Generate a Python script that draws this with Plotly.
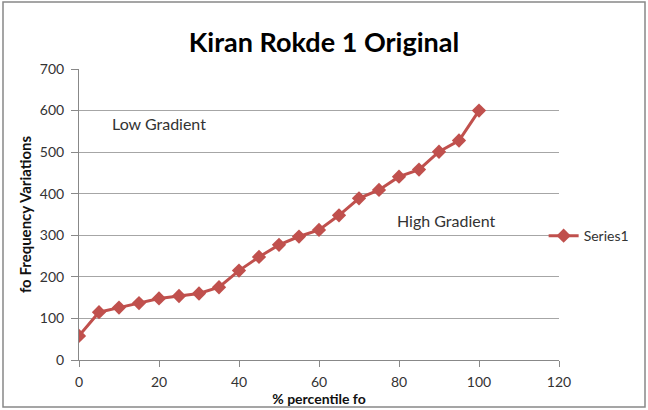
import plotly.graph_objects as go

percentile = [0, 5, 10, 15, 20, 25, 30, 35, 40, 45, 50, 55, 60, 65, 70, 75, 80, 85, 90, 95, 100]
fo_values = [58, 115, 126, 137, 148, 154, 160, 175, 215, 248, 277, 297, 313, 348, 389, 409, 441, 458, 501, 528, 600]
x_ticks = [0, 20, 40, 60, 80, 100, 120]
y_ticks = [0, 100, 200, 300, 400, 500, 600, 700]

FONT = "Lato, 'Open Sans', sans-serif"
RED = "#C0504D"
TXT = "#333"

fig = go.Figure()
fig.add_trace(go.Scatter(
    x=percentile, y=fo_values, mode="lines+markers", name="Series1",
    line=dict(color=RED, width=3),
    marker=dict(symbol="diamond", size=11, color=RED),
))

fig.update_layout(
    width=648, height=410,
    margin=dict(l=79, r=89, t=69, b=50, autoexpand=False),
    paper_bgcolor="white", plot_bgcolor="white",
    font=dict(family=FONT, size=14, color=TXT),
    title=dict(text="<b>Kiran Rokde 1 Original</b>", x=0.5, xanchor="center",
               y=0.897, yanchor="middle", font=dict(size=27, color="black", family=FONT)),
    showlegend=True,
    legend=dict(x=0.968, xanchor="left", y=0.426, yanchor="middle",
                font=dict(size=14, color=TXT), bgcolor="rgba(0,0,0,0)"),
    xaxis=dict(range=[0, 120], tickvals=x_ticks, showgrid=False, zeroline=False,
               showline=True, linecolor="#888", linewidth=1, automargin=False,
               ticks="outside", ticklen=6, tickcolor="#888", ticklabelstandoff=3,
               tickfont=dict(size=14, color=TXT),
               title=dict(text="<b>% percentile fo</b>", standoff=2, font=dict(size=14, color="#111"))),
    yaxis=dict(range=[0, 700], tickvals=y_ticks, showgrid=True, gridcolor="#A6A6A6", gridwidth=1,
               zeroline=False, showline=True, linecolor="#888", linewidth=1, automargin=False,
               ticks="outside", ticklen=7, tickcolor="#888", ticklabelstandoff=4,
               tickfont=dict(size=14, color=TXT),
               title=dict(text="<b>fo Frequency Variations</b>", standoff=4, font=dict(size=15, color="#111"))),
    annotations=[
        dict(text="Low Gradient", x=7.7, y=568, xref="x", yref="y", showarrow=False,
             xanchor="left", yanchor="middle", font=dict(size=16, color=TXT)),
        dict(text="High Gradient", x=79, y=335, xref="x", yref="y", showarrow=False,
             xanchor="left", yanchor="middle", font=dict(size=16, color=TXT)),
    ],
    shapes=[dict(type="rect", xref="paper", yref="paper",
                 x0=-76/480, x1=566/480, y0=-47/291, y1=1 + 67/291,
                 line=dict(color="#888", width=1.5), fillcolor="rgba(0,0,0,0)")],
)

fig.write_html("out.html", config={"displayModeBar": False},
               post_script="document.body.style.margin='0';")
